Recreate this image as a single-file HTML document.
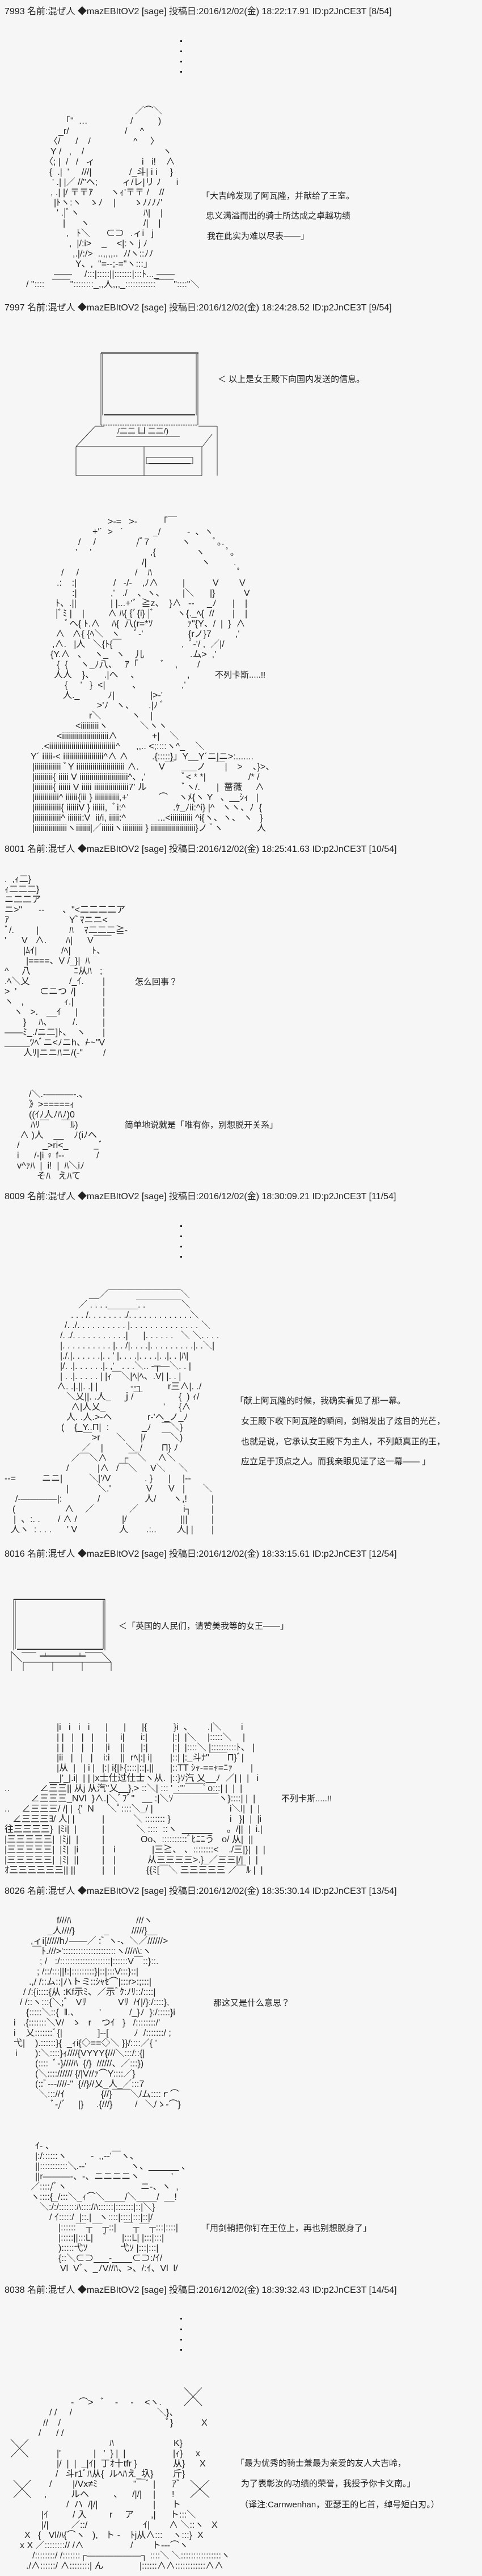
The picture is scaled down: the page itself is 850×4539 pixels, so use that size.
<!DOCTYPE html>
<html><head><meta charset="utf-8"><style>
body{margin:0;width:850px;height:4539px;background:#f6f6f6;position:relative;overflow:hidden;font-family:"Liberation Sans","Noto Sans CJK JP",sans-serif;font-size:16px;color:#222}
.t{position:absolute;white-space:pre;line-height:18px}
.h{left:8px}
.s{font-size:15px}
.aa{position:absolute;left:0;width:850px;line-height:18px}
.aa div{position:relative;height:18px}
.aa i{position:absolute;top:0;font-style:normal;white-space:pre}
svg{position:absolute;left:0;top:0}
</style></head><body>
<svg width="850" height="4539" stroke="#333" fill="none" stroke-width="1">
<g fill="#222" stroke="none">
<rect x="318" y="71" width="3" height="3"/><rect x="318" y="89" width="3" height="3"/><rect x="318" y="107" width="3" height="3"/><rect x="318" y="125" width="3" height="3"/>
<rect x="318" y="2159" width="3" height="3"/><rect x="318" y="2177" width="3" height="3"/><rect x="318" y="2195" width="3" height="3"/><rect x="318" y="2213" width="3" height="3"/>
<rect x="318" y="4084" width="3" height="3"/><rect x="318" y="4103" width="3" height="3"/><rect x="318" y="4121" width="3" height="3"/><rect x="318" y="4139" width="3" height="3"/>
</g>
<line x1="178" y1="622" x2="350" y2="622" stroke-width="2"/>
<line x1="178" y1="622" x2="178" y2="749"/><line x1="181" y1="624" x2="181" y2="732"/>
<line x1="346" y1="624" x2="346" y2="732"/><line x1="349" y1="622" x2="349" y2="749"/>
<line x1="183" y1="731" x2="344" y2="731" stroke-width="2"/>
<line x1="178" y1="749" x2="349" y2="749" stroke-dasharray="2 1"/>
<line x1="168" y1="751" x2="184" y2="751"/><line x1="350" y1="751" x2="383" y2="751"/>
<line x1="168" y1="751" x2="134" y2="787"/><line x1="374" y1="765" x2="357" y2="787"/>
<line x1="383" y1="751" x2="383" y2="838"/>
<line x1="205" y1="769" x2="317" y2="769"/>
<line x1="134" y1="787" x2="356" y2="787"/><line x1="134" y1="787" x2="134" y2="838"/>
<line x1="254" y1="787" x2="254" y2="838"/><line x1="356" y1="787" x2="356" y2="838"/>
<line x1="134" y1="838" x2="356" y2="838"/>
<rect x="258" y="806" width="82" height="11"/>
<line x1="262" y1="817" x2="336" y2="817" stroke-width="2"/>
<line x1="24" y1="2818" x2="185" y2="2818" stroke-width="2"/>
<line x1="24" y1="2818" x2="24" y2="2908"/><line x1="27" y1="2820" x2="27" y2="2906"/>
<line x1="182" y1="2820" x2="182" y2="2906"/><line x1="185" y1="2818" x2="185" y2="2908"/>
<line x1="30" y1="2906" x2="182" y2="2906" stroke-width="2"/>
<line x1="38" y1="2912" x2="64" y2="2912"/><line x1="150" y1="2912" x2="180" y2="2912"/>
<line x1="70" y1="2918" x2="151" y2="2918" stroke-width="2"/>
<line x1="80" y1="2912" x2="80" y2="2918"/><line x1="141" y1="2912" x2="141" y2="2918"/>
<line x1="20" y1="2910" x2="38" y2="2928"/><line x1="180" y1="2912" x2="196" y2="2929"/>
<line x1="41" y1="2929" x2="196" y2="2929"/>
<line x1="20" y1="2910" x2="20" y2="2944"/><line x1="41" y1="2929" x2="41" y2="2944"/>
<line x1="93" y1="2929" x2="93" y2="2944"/><line x1="145" y1="2929" x2="145" y2="2944"/>
<line x1="196" y1="2929" x2="196" y2="2944"/>
<line x1="325" y1="4207" x2="356" y2="4239"/><line x1="356" y1="4207" x2="325" y2="4239"/>
<line x1="19" y1="4298" x2="50" y2="4330"/><line x1="50" y1="4298" x2="19" y2="4330"/>
<line x1="24" y1="4370" x2="54" y2="4401"/><line x1="54" y1="4370" x2="24" y2="4401"/>
<line x1="336" y1="4370" x2="369" y2="4401"/><line x1="369" y1="4370" x2="336" y2="4401"/>
</svg>

<div class="t h" style="top:12px">7993 名前:混ぜ人 ◆mazEBItOV2 [sage] 投稿日:2016/12/02(金) 18:22:17.91 ID:p2JnCE3T [8/54]</div>
<div class="aa" style="top:187px">
<div><i style="left:238px">／⌒＼</i></div>
<div><i style="left:108px">「"  …</i><i style="left:230px">/          )</i></div>
<div><i style="left:103px">_r/</i><i style="left:220px">/     ^</i></div>
<div><i style="left:86px">〈/      /    /</i><i style="left:235px">^     〉</i></div>
<div><i style="left:89px">Y /   ,    /</i><i style="left:287px">ヽ</i></div>
<div><i style="left:78px">〈; |  /   /   ィ</i><i style="left:250px">i   i!    ∧</i></div>
<div><i style="left:87px">{  .|  '     ///|</i><i style="left:228px">/_斗| i i     }</i></div>
<div><i style="left:92px">' .| |／ //"ヘ;</i><i style="left:215px">ィ/レ|リ ﾉ      i</i></div>
<div><i style="left:89px">, .| |/ 〒〒ｱ</i><i style="left:195px">ヽｨ'〒〒 /    //</i></div>
<div><i style="left:95px">|ﾄヽ:ヽ   ゝﾉ</i><i style="left:200px">|       ゝﾉﾉﾉﾉ'</i></div>
<div><i style="left:100px">' .|ﾞヽ</i><i style="left:253px">ﾊ|    |</i></div>
<div><i style="left:111px">|      ヽ</i><i style="left:253px">/|    |</i></div>
<div><i style="left:117px">,   ﾄ＼</i><i style="left:187px">⊂⊃</i><i style="left:230px">.ィi   j</i></div>
<div><i style="left:122px">,  |/:i&gt;    _    &lt;|:ヽ j ﾉ</i></div>
<div><i style="left:128px">,.|/:/&gt;  ..,,,,..  ﾉ/ヽ::ﾉﾉ</i></div>
<div><i style="left:133px">Y、,  "=--;-="ヽ:::」</i></div>
<div><i style="left:95px">――</i><i style="left:149px">/:::|:::::||:::::::|:::ﾄ..._</i><i style="left:276px">――</i></div>
<div><i style="left:46px">/ "::::   ￣￣"::::::::_,,人,,,_::::::::::::￣￣"::::"＼</i></div>
</div>
<div class="t s" style="left:355px;top:337px">「大吉岭发现了阿瓦隆，并献给了王室。</div>
<div class="t s" style="left:363px;top:372px">忠义满溢而出的骑士所达成之卓越功绩</div>
<div class="t s" style="left:365px;top:408px">我在此实为难以尽表――」</div>

<div class="t h" style="top:534px">7997 名前:混ぜ人 ◆mazEBItOV2 [sage] 投稿日:2016/12/02(金) 18:24:28.52 ID:p2JnCE3T [9/54]</div>
<div class="t" style="left:207px;top:750px;font-size:14px">/二二 凵 二二/)</div>
<div class="t s" style="left:384px;top:660px">＜ 以上是女王殿下向国内发送的信息。</div>
<div class="aa" style="top:911px">
<div><i style="left:190px">&gt;-=   &gt;-</i><i style="left:280px">「￣</i></div>
<div><i style="left:163px">+'´  &gt;   ´</i><i style="left:270px">_/</i><i style="left:330px">‐  、ヽ</i></div>
<div><i style="left:138px">/     /</i><i style="left:240px">/ﾞ7</i><i style="left:320px">ヽ</i><i style="left:375px">ﾟ｡.</i></div>
<div><i style="left:133px">'     '</i><i style="left:265px">,{</i><i style="left:345px">ヽ</i><i style="left:398px">ﾟ｡</i></div>
<div><i style="left:250px">/|</i><i style="left:355px">ヽ</i><i style="left:412px">.</i></div>
<div><i style="left:108px">/     /</i><i style="left:238px">/    ﾊ</i><i style="left:418px">ﾟ</i></div>
<div><i style="left:100px">.:    :|</i><i style="left:200px">/   -/-    ,ﾉ∧</i><i style="left:322px">|</i><i style="left:375px">V</i><i style="left:422px">V</i></div>
<div><i style="left:127px">:|</i><i style="left:195px">,'   ./    、ヽ、</i><i style="left:322px">|＼</i><i style="left:370px">|}</i><i style="left:430px">V</i></div>
<div><i style="left:98px">ﾄ、.||</i><i style="left:195px">| |...+'゛≧z、  }∧</i><i style="left:332px">-‐</i><i style="left:365px">_ﾉ</i><i style="left:410px">|</i><i style="left:432px">|</i></div>
<div><i style="left:98px">|ﾞﾐ |    |</i><i style="left:190px">∧ ﾊ{ {ﾞ{i} |ﾞ</i><i style="left:312px">ヽ{._ﾍ{  //</i><i style="left:410px">|</i><i style="left:432px">|</i></div>
<div><i style="left:114px">ﾞヘ{ ﾄ.∧</i><i style="left:197px">ﾊ{  八(r=*ｿ</i><i style="left:330px">ｧ"{Y、/  |  }  ∧</i></div>
<div><i style="left:98px">∧   ∧{ {ﾍ＼   ヽ</i><i style="left:236px">ﾞ‐'</i><i style="left:332px">{rノ}7</i><i style="left:415px">,'</i></div>
<div><i style="left:92px">,∧.   |人   ＼{ﾄ{￣</i><i style="left:320px">,  ﾞ‐'/ ,  ／|/</i></div>
<div><i style="left:89px">{Y.∧   、   ヽ_   ヽ    儿</i><i style="left:335px">.ム&gt;  ,'</i></div>
<div><i style="left:100px">{  {     ヽ_ﾉ八、   ｱ「</i><i style="left:283px">ﾞ    ,</i><i style="left:348px">/</i></div>
<div><i style="left:95px">人人    }、    .|へ</i><i style="left:230px">、</i><i style="left:330px">,</i></div>
<div><i style="left:114px">{     '   }  &lt;|</i><i style="left:233px">、</i><i style="left:320px">,'</i></div>
<div><i style="left:111px">人._</i><i style="left:190px">ﾉ|</i><i style="left:265px">|&gt;-'</i></div>
<div><i style="left:171px">&gt;'ﾉ   ヽ、</i><i style="left:262px">.|ﾉ ﾞ</i></div>
<div><i style="left:157px">r＼</i><i style="left:232px">ヽ</i><i style="left:265px">|</i></div>
<div><i style="left:133px">&lt;iiiiiiiiiヽ</i><i style="left:247px">＼ヽヽ</i></div>
<div><i style="left:100px">&lt;iiiiiiiiiiiiiiiiiiiiiii∧</i><i style="left:268px">+|    ＼</i></div>
<div><i style="left:73px">.&lt;iiiiiiiiiiiiiiiiiiiiiiiiiiiiiiiii^</i><i style="left:240px">,,.. &lt;;::::ヽ^_    ＼</i></div>
<div><i style="left:54px">Y´ iiiii-&lt; iiiiiiiiiiiiiiiiiiii^∧ ∧</i><i style="left:268px">.{:::::}」Y__Y´ニ|ニ&gt;:.......</i></div>
<div><i style="left:57px">|iiiiiiiiiiiii ﾞY iiiiiiiiiiiiiiiiiiiiiiii ∧.</i><i style="left:280px">V￣   ___ノ    ￣|    &gt;    、}&gt;、</i></div>
<div><i style="left:57px">|iiiiiiiii{ iiiii V iiiiiiiiiiiiiiiiiiiiiiii^、,'</i><i style="left:320px">ﾞ&lt; * *|</i><i style="left:438px">/* /</i></div>
<div><i style="left:57px">|iiiiiiiii{ iiiiii V iiiii iiiiiiiiiiiiiiiii7' ル</i><i style="left:320px">ﾞヽ/.</i><i style="left:382px">|  蔷薇</i><i style="left:450px">∧</i></div>
<div><i style="left:57px">|iiiiiiiiiiii^ iiiiii{iii } iiiiiiiiiiii,+'</i><i style="left:280px">⌒</i><i style="left:315px">ヽﾒ{ヽ Y   、__ｼｨ   |</i></div>
<div><i style="left:57px">|iiiiiiiiiiiii{ iiiiiiV } iiiiii,  ﾞi:^</i><i style="left:305px">.ｹ_ﾉii:^i} |^   ヽヽ、ﾉ  {</i></div>
<div><i style="left:57px">|iiiiiiiiiiiii^ iiiiiii:V  ii/i, iiiii:^</i><i style="left:278px">...&lt;iiiiiiiiiii ^i{ヽ、ヽ、 ヽ   }</i></div>
<div><i style="left:57px">|iiiiiiiiiiiiiiiiヽiiiiiii|／iiiiiiヽiiiiiiiiii } iiiiiiiiiiiiiiiiiiiiii}ノ ﾞヽ</i><i style="left:453px">人</i></div>
</div>
<div class="t s" style="left:379px;top:1181px">不列卡斯.....!!</div>

<div class="t h" style="top:1488px">8001 名前:混ぜ人 ◆mazEBItOV2 [sage] 投稿日:2016/12/02(金) 18:25:41.63 ID:p2JnCE3T [10/54]</div>
<div class="aa" style="top:1541px">
<div><i style="left:8px">.  ,ｨ二}</i></div>
<div><i style="left:8px">ｨ二二二}</i></div>
<div><i style="left:8px">ニ二二ア</i></div>
<div><i style="left:8px">ニ&gt;"</i><i style="left:68px">‐‐</i><i style="left:110px">、"&lt;二二二二ア</i></div>
<div><i style="left:8px">ｱ</i><i style="left:122px">Yﾞﾏニニ&lt;</i></div>
<div><i style="left:8px">ﾞ/.</i><i style="left:64px">|</i><i style="left:122px">ﾊ    ﾏ二二二≧-</i></div>
<div><i style="left:8px">'</i><i style="left:38px">V   ∧.</i><i style="left:116px">ﾊ|</i><i style="left:154px">V￣￣</i></div>
<div><i style="left:41px">|ﾑｲ|</i><i style="left:108px">/ﾍ|</i><i style="left:162px">ﾄ、</i></div>
<div><i style="left:46px">|====、V /_}|  ﾊ</i></div>
<div><i style="left:8px">^</i><i style="left:38px">八</i><i style="left:130px">ﾆ从ﾊ</i><i style="left:176px">;</i></div>
<div><i style="left:8px">.ﾍ＼乂</i><i style="left:122px">/_ｲ.</i><i style="left:181px">|</i></div>
<div><i style="left:8px">&gt;  '</i><i style="left:70px">⊂ニつ</i><i style="left:125px">/|</i><i style="left:181px">|</i></div>
<div><i style="left:8px">ヽ   ,</i><i style="left:113px">ｨ.|</i><i style="left:181px">|</i></div>
<div><i style="left:24px">ヽ   &gt;.</i><i style="left:82px">__ｲ</i><i style="left:133px">|</i><i style="left:181px">|</i></div>
<div><i style="left:41px">}</i><i style="left:68px">ﾊ、</i><i style="left:128px">/.</i><i style="left:181px">|</i></div>
<div><i style="left:8px">――ﾐ_./ニ二]ﾄ、</i><i style="left:135px">ヽ</i><i style="left:181px">|</i></div>
<div><i style="left:8px">_____ﾂﾍﾞニ&lt;ﾉニh、/</i><i style="left:150px">~~"V</i></div>
<div><i style="left:41px">人ﾘ|ニニﾊニ/(-"</i><i style="left:182px">/</i></div>
</div>
<div class="t s" style="left:238px;top:1722px">怎么回事？</div>
<div class="aa" style="top:1920px">
<div><i style="left:51px">/＼.-―――-.、</i></div>
<div><i style="left:51px">》&gt;=====ｨ</i></div>
<div><i style="left:51px">((ｲﾉ人ﾉﾊﾉ)0</i></div>
<div><i style="left:54px">ﾊﾘ￣     ￣ﾙ)</i></div>
<div><i style="left:35px">∧ )人    __    ﾉ(iﾉへ</i></div>
<div><i style="left:30px">/</i><i style="left:75px">_&gt;ri&lt;_</i><i style="left:165px">_ﾞ</i></div>
<div><i style="left:30px">i</i><i style="left:60px">/‐|i ♀ f‐‐</i><i style="left:170px">/</i></div>
<div><i style="left:30px">v^ｧﾊ  |  i!  |  ﾊ＼iﾉ</i></div>
<div><i style="left:65px">そﾊ   えﾊて</i></div>
</div>
<div class="t s" style="left:220px;top:1974px">简单地说就是「唯有你，别想脱开关系」</div>

<div class="t h" style="top:2100px">8009 名前:混ぜ人 ◆mazEBItOV2 [sage] 投稿日:2016/12/02(金) 18:30:09.21 ID:p2JnCE3T [11/54]</div>
<div class="aa" style="top:2273px">
<div><i style="left:157px">__／￣￣￣￣￣￣￣￣＼</i></div>
<div><i style="left:138px">／ . . . .______. .</i><i style="left:240px">￣￣￣￣￣＼</i></div>
<div><i style="left:125px">. . . /. . . . . . . ./. . . . . . . . . . . . .</i><i style="left:335px">＼</i></div>
<div><i style="left:114px">/. ./. . . . . . . . . . |. . . . . . . . . . . . . .</i><i style="left:355px">＼</i></div>
<div><i style="left:106px">/. ./. . . . . . . . . . .|      |. . . . . .   ＼ ＼. . . .</i></div>
<div><i style="left:106px">|. . . . . . . . . . |. . /|. . . .|. . . . . . . . .|. .＼|</i></div>
<div><i style="left:106px">|./.|. . . . . .|. . ' |. . . .|. . . .|. .|. . |ﾊ|</i></div>
<div><i style="left:106px">|/. .|. . . . . .|. ,'   . . .＼.. ‐┬―＼. . |</i></div>
<div><i style="left:106px">| . .|. . . . . | |ｨ￣＼|ﾍ|ﾍ、.V| |. . |</i></div>
<div><i style="left:100px">∧. .|.||. .| |</i><i style="left:230px">--┐</i><i style="left:296px">r三∧|. ./</i></div>
<div><i style="left:117px">＼乂||. .人_</i><i style="left:215px">ｊ/￣</i><i style="left:315px">{  ) ｨ/</i></div>
<div><i style="left:125px">∧|人乂_</i><i style="left:288px">'</i><i style="left:315px">{∧</i></div>
<div><i style="left:117px">人. .人.&gt;-ヘ</i><i style="left:260px">r‐'ヘ_ノ_ﾉ</i></div>
<div><i style="left:108px">(    {_Y..Π|  :</i><i style="left:250px">_ﾉ</i><i style="left:285px">￣＼}</i></div>
<div><i style="left:146px">￣&gt;r</i><i style="left:205px">＼</i><i style="left:248px">|/</i><i style="left:285px">￣＼)</i></div>
<div><i style="left:144px">／    |</i><i style="left:222px">＼_/</i><i style="left:285px">Π} ﾉ</i></div>
<div><i style="left:125px">／￣＼∧</i><i style="left:215px">┌￣＼</i><i style="left:278px">∧＼</i></div>
<div><i style="left:117px">/</i><i style="left:172px">|∧</i><i style="left:205px">/￣＼</i><i style="left:265px">V＼</i><i style="left:315px">＼</i></div>
<div><i style="left:8px">--=</i><i style="left:74px">ニニ|</i><i style="left:157px">＼|'/V</i><i style="left:255px">. }</i><i style="left:297px">|</i><i style="left:322px">|--</i></div>
<div><i style="left:117px">|</i><i style="left:172px">＼.'</i><i style="left:258px">V</i><i style="left:297px">V</i><i style="left:322px">|</i><i style="left:358px">＼</i></div>
<div><i style="left:27px">/‐――――|:</i><i style="left:172px">/</i><i style="left:255px">人/</i><i style="left:305px">ヽ,!</i><i style="left:373px">|</i></div>
<div><i style="left:22px">(</i><i style="left:114px">∧</i><i style="left:150px">／</i><i style="left:228px">／</i><i style="left:323px">i┐</i><i style="left:373px">|</i></div>
<div><i style="left:24px">|  、:. .</i><i style="left:102px">/ ∧ /</i><i style="left:215px">|/</i><i style="left:318px">|||</i><i style="left:373px">|</i></div>
<div><i style="left:19px">人ヽ  : . . .</i><i style="left:118px">' V</i><i style="left:210px">人</i><i style="left:258px">.:..</i><i style="left:312px">人| |</i><i style="left:373px">|</i></div>
</div>
<div class="t s" style="left:415px;top:2460px">「献上阿瓦隆的时候，我确实看见了那一幕。</div>
<div class="t s" style="left:425px;top:2496px">女王殿下收下阿瓦隆的瞬间，剑鞘发出了炫目的光芒，</div>
<div class="t s" style="left:425px;top:2532px">也就是说，它承认女王殿下为主人，不列颠真正的王，</div>
<div class="t s" style="left:425px;top:2567px">应立足于顶点之人。而我亲眼见证了这一幕―― 」</div>

<div class="t h" style="top:2730px">8016 名前:混ぜ人 ◆mazEBItOV2 [sage] 投稿日:2016/12/02(金) 18:33:15.61 ID:p2JnCE3T [12/54]</div>
<div class="t s" style="left:209px;top:2857px">＜「英国的人民们，请赞美我等的女王――」</div>
<div class="aa" style="top:3035px">
<div><i style="left:100px">|i   i   i   i</i><i style="left:186px">|</i><i style="left:218px">|</i><i style="left:250px">|{</i><i style="left:306px">}i  、</i><i style="left:366px">.|＼</i><i style="left:425px">i</i></div>
<div><i style="left:100px">| |   |   |   |</i><i style="left:186px">|</i><i style="left:212px">i|</i><i style="left:248px">i:|</i><i style="left:304px">|:|  |＼</i><i style="left:366px">|:::::＼</i><i style="left:428px">|</i></div>
<div><i style="left:100px">| |   |   |   |</i><i style="left:186px">|i</i><i style="left:212px">||</i><i style="left:248px">|:|</i><i style="left:304px">|:|  |::::＼ |::::::::::ﾄ、 |</i></div>
<div><i style="left:100px">|ii   |   |   |</i><i style="left:182px">i:i</i><i style="left:212px">||</i><i style="left:230px">rﾍ|:| i|</i><i style="left:300px">|::| |:_斗ﾅ"￣￣Π}ﾞ|</i></div>
<div><i style="left:100px">|从  |   | i |</i><i style="left:180px">|:| i{|ﾄ{::::|::|.||</i><i style="left:300px">|::TT ｼｬ-==ｬ=ﾆｧ</i><i style="left:442px">|</i></div>
<div><i style="left:87px">__|'_|.i|  | | |x士仕过仕士ヽ从.</i><i style="left:300px">|::}ｿ汽 乂__ﾉ  ／| |  |   i</i></div>
<div><i style="left:8px">..</i><i style="left:70px">∠三三|| 从j 从汽"乂__},&gt; ::＼| ::: '  :'"￣￣ﾟo:::| |  |  |</i></div>
<div><i style="left:54px">∠三三三_NVl  }∧.|＼ﾞﾌﾞ"   __ :|＼ｿ￣￣￣￣￣ヽ}::::| |  |</i></div>
<div><i style="left:8px">..</i><i style="left:38px">∠三三三/ /| |  {'  N</i><i style="left:190px">＼ﾟ::::＼_/ |</i><i style="left:405px">i＼l|  |  |</i></div>
<div><i style="left:22px">∠三三三ﾖ/ 人| |</i><i style="left:180px">|</i><i style="left:235px">＼ :::::::: }</i><i style="left:405px">i   }|  |  |i</i></div>
<div><i style="left:8px">往三三三三}  |ﾐi|  |</i><i style="left:180px">|</i><i style="left:240px">＼ ::::  ::ヽ  ______</i><i style="left:400px">。/||  |  i.|</i></div>
<div><i style="left:8px">|三三三三三|  |ﾐj|  |</i><i style="left:180px">|</i><i style="left:248px">Oo、::::::::::ﾞﾋﾆﾆう   o/ 从|  ||</i></div>
<div><i style="left:8px">|三三三三三|  |ﾐ|  |i</i><i style="left:180px">|</i><i style="left:200px">i</i><i style="left:268px">|三≧、 、::::::::&lt;    ./三|}|  |  |</i></div>
<div><i style="left:8px">|三三三三三|  |ﾐ|  ||</i><i style="left:180px">|</i><i style="left:200px">|</i><i style="left:260px">从三三三三&gt;.}_／三三|/|  |  |</i></div>
<div><i style="left:8px">ｵ三三三三三三|| ||</i><i style="left:180px">|</i><i style="left:200px">|</i><i style="left:258px">{{ﾐ[￣＼ 三三三三三 ／￣ﾙ |  |</i></div>
</div>
<div class="t s" style="left:496px;top:3161px">不列卡斯.....!!</div>

<div class="t h" style="top:3324px">8026 名前:混ぜ人 ◆mazEBItOV2 [sage] 投稿日:2016/12/02(金) 18:35:30.14 ID:p2JnCE3T [13/54]</div>
<div class="aa" style="top:3376px">
<div><i style="left:100px">f///ﾊ</i><i style="left:240px">///ヽ</i></div>
<div><i style="left:84px">_人////}</i><i style="left:183px">_</i><i style="left:232px">/////}__</i></div>
<div><i style="left:54px">,ィi[/////hﾉ――／ :ﾞ ヽ-、＼／//////&gt;</i></div>
<div><i style="left:57px">￣ﾄ.///&gt;':::::::::::::::::::::ヽ///ﾊ\:ヽ</i></div>
<div><i style="left:70px">; /   :/::::::::::::::::::::|::::::V￣::}::.</i></div>
<div><i style="left:65px">; /::/:::||!:|:::::::::}|::|:::V:::}::|</i></div>
<div><i style="left:51px">.,/ /::ム::|ハトミ::ｼｬｾ⌒|:::r&gt;:;:::|</i></div>
<div><i style="left:41px">/ /:{i::::{从 :Kf示ﾐ、／示ﾞｸ:ﾉﾘ::/::::|</i></div>
<div><i style="left:35px">/ /::ヽ:::{＼;ﾞ   Vﾘ</i><i style="left:208px">Vﾘ  /ｲ|/}:/::::},</i></div>
<div><i style="left:46px">{:::::＼::{  ‖.、</i><i style="left:175px">'</i><i style="left:228px">/_}ﾉ  }:/:::::}i</i></div>
<div><i style="left:24px">i   .{:::::::＼V/   ゝ   r    つｲ   }   /::::::::/'</i></div>
<div><i style="left:24px">i    乂:::::::ﾞ{|</i><i style="left:172px">]‐‐[</i><i style="left:236px">ﾉ  /:::::::/ ;</i></div>
<div><i style="left:24px">弋|    ).::::::}{  _ｨi{◇==◇＼ }}/::::／{ '</i></div>
<div><i style="left:27px">i</i><i style="left:62px">):＼::::}ｨ////{VYYY{///＼:::/::{|</i></div>
<div><i style="left:62px">(::::  ﾞ‐}////ﾊ  {/}  //////、／:::})</i></div>
<div><i style="left:62px">(＼::::////// {/|V//ｧ⌒Y::::／}</i></div>
<div><i style="left:62px">(::ﾞ‐‐‐////‐"  {//}//乂_人_／:::7</i></div>
<div><i style="left:68px">＼::://ｲ</i><i style="left:178px">{//}￣￣＼/ム::::ｒ⌒</i></div>
<div><i style="left:89px">ﾞ‐/ﾞ</i><i style="left:138px">|}</i><i style="left:170px">.{///}</i><i style="left:238px">/   ＼/ゝ-⌒}</i></div>
</div>
<div class="t s" style="left:376px;top:3521px">那这又是什么意思？</div>
<div class="aa" style="top:3773px">
<div><i style="left:62px">ｲ‐ 、</i></div>
<div><i style="left:62px">|:/::::::ヽ</i><i style="left:160px">-  ,,-‐'￣ヽ、</i></div>
<div><i style="left:62px">||:::::::::::＼</i><i style="left:130px">,.-‐'</i><i style="left:230px">ヽ、______ 、</i></div>
<div><i style="left:62px">||r―――-、-、ニニニニヽ</i><i style="left:302px">'</i></div>
<div><i style="left:54px">／::::/ﾞヽ</i><i style="left:248px">ニ-、ヽ  ,</i></div>
<div><i style="left:54px">ヽ::::{_/:::＼_ｨ⌒＼____/＼____/  __!</i></div>
<div><i style="left:70px">＼:/:/:::::::ﾊ::::/ﾊ::::::|:::::::|::|＼}</i></div>
<div><i style="left:87px">/ ｲ:::::/  |::.|   ヽ::::|::::|:::|::|/</i></div>
<div><i style="left:103px">|::::::¯¯┬¯¯┬::|   ￣┬¯¯┬:::|::::|</i></div>
<div><i style="left:103px">|:::::||:::L|    ﾞ</i><i style="left:215px">|:::L| |:::|:::|</i></div>
<div><i style="left:103px">):::::弋ｿ</i><i style="left:212px">弋ｿ |:::|:::|</i></div>
<div><i style="left:103px">{::＼⊂⊃___-____⊂⊃:/ｲ/</i></div>
<div><i style="left:106px">Vl  Vﾞ、_ﾉV//ﾊ、&gt;、/:ｲ、Vl  l/</i></div>
</div>
<div class="t s" style="left:355px;top:3918px">「用剑鞘把你钉在王位上，再也别想脱身了」</div>

<div class="t h" style="top:4027px">8038 名前:混ぜ人 ◆mazEBItOV2 [sage] 投稿日:2016/12/02(金) 18:39:32.43 ID:p2JnCE3T [14/54]</div>
<div class="aa" style="top:4207px">
<div></div>
<div><i style="left:125px">-  ⌒&gt;   ﾞ    ‐     ‐</i><i style="left:255px">&lt;ヽ.</i></div>
<div><i style="left:87px">/ /     /</i><i style="left:277px">＼}、</i></div>
<div><i style="left:76px">//    /</i><i style="left:292px">ﾞ}</i><i style="left:355px">X</i></div>
<div><i style="left:68px">/      / /</i></div>
<div><i style="left:193px">ﾊ</i><i style="left:306px">K}</i></div>
<div><i style="left:100px">|'</i><i style="left:165px">|   '  } |  |</i><i style="left:305px">|ｨ}</i><i style="left:345px">x</i></div>
<div><i style="left:100px">|/  |  |  _|ｲ|  丁ｵ十tfr }</i><i style="left:305px">从}</i><i style="left:352px">X</i></div>
<div><i style="left:98px">/   斗r1ﾞﾊ从{  ルﾍﾊえ_圦}</i><i style="left:305px">斤}</i></div>
<div><i style="left:87px">/</i><i style="left:128px">|/Vx≠ﾐ</i><i style="left:235px">"￣ﾞ</i><i style="left:270px">|</i><i style="left:303px">ｱﾞ</i></div>
<div><i style="left:78px">,</i><i style="left:125px">ルヘ</i><i style="left:200px">、</i><i style="left:233px">/|/|</i><i style="left:270px">|</i><i style="left:303px">!</i></div>
<div><i style="left:117px">/  ハ  /|/|</i><i style="left:270px">|</i><i style="left:303px">ト</i></div>
<div><i style="left:73px">|ｲ</i><i style="left:128px">/ 入</i><i style="left:193px">r</i><i style="left:220px">ア</i><i style="left:266px">,|</i><i style="left:300px">ト:::＼</i></div>
<div><i style="left:73px">|/|</i><i style="left:125px">／::/</i><i style="left:252px">ｲ|</i><i style="left:298px">∧ ＼::ヽ</i><i style="left:373px">X</i></div>
<div><i style="left:43px">X   {   Vl/ﾊ{⌒ヽ   ),   ト ‐    ﾄj从∧:::    ヽ:::}  X</i></div>
<div><i style="left:35px">x X ／::::::::// /∧</i><i style="left:230px">/</i><i style="left:268px">ト--‐⌒ヽ</i></div>
<div><i style="left:57px">/::::::::/ /:::::::┌――――――┐ ::::＼ ＼::::::::::::::::ヽ</i></div>
<div><i style="left:46px">./∧::::::/ ∧::::::::| ん</i><i style="left:246px">|::::::∧∧::::::::::::∧∧</i></div>
</div>
<div class="t s" style="left:416px;top:4332px">「最为优秀的骑士兼最为亲爱的友人大吉岭，</div>
<div class="t s" style="left:425px;top:4368px">为了表彰汝的功绩的荣誉，我授予你卡文南。」</div>
<div class="t s" style="left:423px;top:4405px">（译注:Carnwenhan，亚瑟王的匕首，绰号短白刃。）</div>
</body></html>
